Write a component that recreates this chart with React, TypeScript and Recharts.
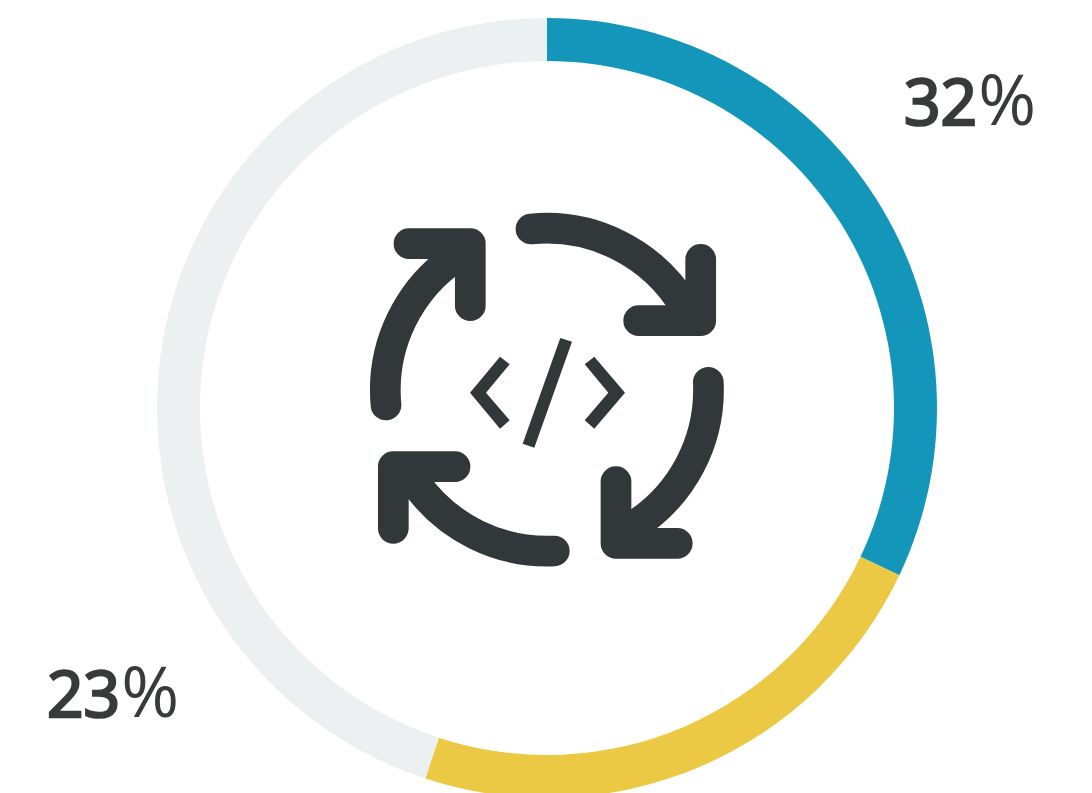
import { PieChart, Pie, Cell } from 'recharts';

const segments = ['Blue', 'Yellow', 'Remainder'];
const shares = [32.05, 23, 44.95];
const colors = ['#1496BB', '#EBC944', '#ECF0F1'];
const percentLabels = ['32', '23'];

const DARK = '#32373A';

const pieData = segments.map((name, i) => ({ name, value: shares[i] }));

function Percent({ x, y, digits }: { x: number; y: number; digits: string }) {
    return (
        <text x={x} y={y} fill="#383A3C" fontFamily="'Open Sans', sans-serif" fontSize={64}>
            {/* no semibold cut installed, so thicken the regular one */}
            <tspan stroke="#383A3C" strokeWidth={2.6}>{digits}</tspan>
            <tspan fontSize={70} dx={1}>%</tspan>
        </text>
    );
}

// the cycle icon in the middle of the ring
function CycleIcon() {
    const line = { fill: 'none', stroke: DARK, strokeWidth: 30.7, strokeLinecap: 'round', strokeLinejoin: 'round' } as const;
    return (
        <g>
            <path {...line} d="M531 229 A161 161 0 0 1 685 307 L700.7 320.7 M638.7 320.7 H700.7 V259.3" />
            <path {...line} d="M708.3 382.3 A161 161 0 0 1 632 527 L616 543.3 M677.3 543.3 H616 V481.7" />
            <path {...line} d="M554.3 551 A161 161 0 0 1 415 482 L393.3 466.7 M455 466.7 H393.3 V528.3" />
            <path {...line} d="M386 405 A161 161 0 0 1 459 255 L470.3 243.7 M409 243.7 H470.3 V305.7" />
            <polygon fill={DARK} points="500,356.7 509.7,364.3 486,392.7 509.7,420.3 500,428.7 470,392.7" />
            <polygon fill={DARK} points="594.3,356.7 584.7,364.3 608.3,392.7 584.7,420.3 594.3,428.7 625,392.7" />
            <polygon fill={DARK} points="560.3,338 572,341.7 534.3,447.7 522.7,443.7" />
        </g>
    );
}

export default function App() {
    return (
        <div style={{ position: 'absolute', left: 0, top: 0, width: 1092, height: 793, overflow: 'hidden', background: '#fff' }}>
            <PieChart width={1092} height={793} margin={{ top: 0, right: 0, bottom: 0, left: 0 }}>
                <Pie
                    data={pieData}
                    dataKey="value"
                    cx={547}
                    cy={408}
                    innerRadius={347}
                    outerRadius={390}
                    startAngle={90}
                    endAngle={-270}
                    stroke="none"
                    isAnimationActive={false}
                >
                    {pieData.map((d, i) => (
                        <Cell key={d.name} fill={colors[i]} />
                    ))}
                </Pie>
                <CycleIcon />
                <Percent x={904} y={125} digits={percentLabels[0]} />
                <Percent x={47} y={717} digits={percentLabels[1]} />
            </PieChart>
        </div>
    );
}
